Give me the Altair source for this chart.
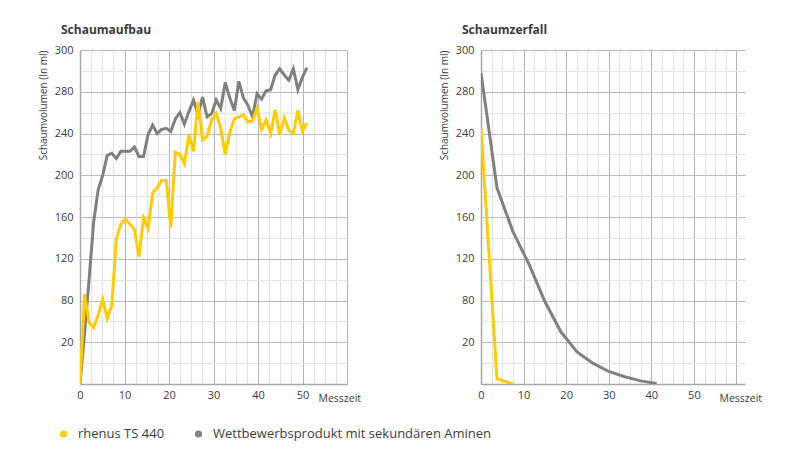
import altair as alt
import pandas as pd

# ---------------- data ----------------
serien = ["rhenus TS 440", "Wettbewerbsprodukt mit sekundären Aminen"]
farben = ["#FFCC00", "#808080"]

# Schaumaufbau (foam build-up)
aufbau_zeit = [0, 1.02, 2.04, 3.06, 4.08, 5.1, 6.12, 7.14, 8.16, 9.18, 10.2,
               11.22, 12.24, 13.26, 14.28, 15.3, 16.32, 17.34, 18.36, 19.38, 20.4,
               21.42, 22.44, 23.46, 24.48, 25.5, 26.52, 27.54, 28.56, 29.58, 30.6,
               31.62, 32.64, 33.66, 34.68, 35.7, 36.72, 37.74, 38.76, 39.78, 40.8,
               41.82, 42.84, 43.86, 44.88, 45.9, 46.92, 47.94, 48.96, 49.98, 51]
aufbau_rhenus = [0, 86, 59, 54, 66, 81, 63, 75, 139, 153, 158,
                 153, 148, 122, 159, 149, 183, 188, 195, 195, 150,
                 222, 220, 211, 239, 223, 270, 234, 237, 253, 259,
                 245, 220, 241, 254, 256, 258, 251, 252, 264, 244,
                 253, 240, 263, 239, 255, 243, 240, 262, 242, 250]
aufbau_wettbewerb = [0, 48, 100, 155, 186, 200, 219, 221, 216, 223, 223,
                     223, 227, 218, 218, 239, 248, 240, 244, 245, 242,
                     254, 260, 249, 261, 272, 258, 275, 256, 259, 272,
                     264, 289, 274, 262, 290, 274, 267, 256, 278, 273,
                     281, 282, 296, 302, 296, 291, 302, 282, 294, 303]

# Schaumzerfall (foam decay)
zerfall_zeit_rhenus = [0, 3.75, 7.5]
zerfall_rhenus = [245, 5, 0]
zerfall_zeit_wettbewerb = [0, 3.75, 7.5, 11.25, 15, 18.75, 22.5, 26.25, 30,
                           33.75, 37.5, 41.25]
zerfall_wettbewerb = [298, 188, 146, 115, 79, 50, 31, 20, 12, 7, 3, 0.5]

# axis tick positions and their printed labels
y_ticks = list(range(0, 321, 20))
y_tick_labels = {40: "20", 80: "80", 120: "120", 160: "160",
                 200: "200", 240: "240", 280: "280", 320: "300"}
x_ticks = [i * 2.5 for i in range(25)]
x_tick_labels = {0: "0", 10: "10", 20: "20", 30: "30", 40: "40", 50: "50"}

# ---------------- build ----------------
def frame(zeit, werte, name):
    return pd.DataFrame({"Zeit": zeit, "Volumen": werte, "Serie": name})

def label_expr(mapping):
    expr = "''"
    for k, v in reversed(list(mapping.items())):
        expr = f"datum.value == {k} ? '{v}' : ({expr})"
    return expr

FONT = "Open Sans"
TXT = "#3c3c3c"

color = alt.Color("Serie:N", scale=alt.Scale(domain=serien, range=farben),
                  legend=alt.Legend(title=None, orient="none", direction="horizontal",
                                    legendX=-23, legendY=377, symbolType="circle",
                                    symbolSize=10, symbolStrokeWidth=4,
                                    labelFontSize=13, labelColor=TXT, labelFont=FONT,
                                    columnPadding=23, labelOffset=8,
                                    labelLimit=400))

def panel(df_grey, df_yellow, titel, xmax, w):
    x = alt.X("Zeit:Q",
              scale=alt.Scale(domain=[0, xmax], nice=False, zero=True),
              axis=alt.Axis(values=x_ticks, labelExpr=label_expr(x_tick_labels),
                            title="Messzeit", titleX=238, titleY=17,
                            titleAlign="left", titleBaseline="alphabetic",
                            titleFontWeight="normal", titleFontSize=10.5,
                            titleColor=TXT, titleFont=FONT,
                            labelFontSize=11, labelColor=TXT, labelFont=FONT,
                            labelPadding=5, labelFlush=False, labelOverlap=False,
                            ticks=False, domainColor="#a8a8a8", domainWidth=1.5,
                            gridColor=alt.condition("datum.value % 10 === 0",
                                                    alt.value("#b4b4b4"),
                                                    alt.value("#e2e2e2")),
                            gridWidth=1))
    y = alt.Y("Volumen:Q",
              scale=alt.Scale(domain=[0, 320], nice=False),
              axis=alt.Axis(values=y_ticks, labelExpr=label_expr(y_tick_labels),
                            title="Schaumvolumen (In ml)", titleAnchor="end",
                            titleFontWeight="normal", titleFontSize=10,
                            titleColor=TXT, titleFont=FONT, titlePadding=6,
                            labelFontSize=11, labelColor=TXT, labelFont=FONT,
                            labelPadding=7, labelOverlap=False, labelFlush=False,
                            ticks=False, domainColor="#a8a8a8", domainWidth=1.5,
                            gridColor=alt.condition("datum.value % 40 === 0",
                                                    alt.value("#bcbcbc"),
                                                    alt.value("#e4e4e4")),
                            gridWidth=1))
    grey = alt.Chart(df_grey).mark_line(strokeWidth=3, clip=True).encode(
        x=x, y=y, color=color, order="Zeit:Q")
    yellow = alt.Chart(df_yellow).mark_line(strokeWidth=3, clip=True).encode(
        x=x, y=y, color=color, order="Zeit:Q")
    return alt.layer(grey, yellow).properties(
        width=w, height=334,
        title=alt.TitleParams(titel, anchor="start", frame="group", dx=-19,
                              offset=7, fontSize=12, fontWeight="bold",
                              color=TXT, font=FONT))

left = panel(frame(aufbau_zeit, aufbau_wettbewerb, serien[1]),
             frame(aufbau_zeit, aufbau_rhenus, serien[0]),
             "Schaumaufbau", 60, 267)
right = panel(frame(zerfall_zeit_wettbewerb, zerfall_wettbewerb, serien[1]),
              frame(zerfall_zeit_rhenus, zerfall_rhenus, serien[0]),
              "Schaumzerfall", 62, 264)

chart = alt.hconcat(left, right, spacing=78).properties(
    padding={"left": 38, "top": 24, "right": 5, "bottom": 5},
    background="white"
).configure_view(stroke=None)

chart.save("out.html", embed_options={"renderer": "svg", "actions": False})
